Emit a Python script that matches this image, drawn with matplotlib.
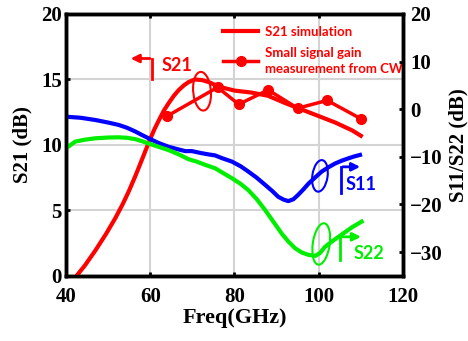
import numpy as np
import matplotlib
matplotlib.use("Agg")
import matplotlib.pyplot as plt
from matplotlib.patches import Ellipse

# S21 simulation (left axis, dB)
sim_f = [42.5, 44.5, 47.0, 49.5, 51.7, 53.5, 54.9, 56.5, 58.0, 59.6, 61.0, 62.0, 63.2, 64.4, 65.6,
         66.8, 68.0, 69.1, 70.6, 72.3, 73.9, 76.3, 80, 84, 88, 92, 96, 100, 104, 108, 110]
sim_s21 = [0.0, 0.8, 1.95, 3.2, 4.4, 5.5, 6.45, 7.65, 8.85, 10.15, 11.2, 11.85, 12.6, 13.2, 13.75,
           14.2, 14.55, 14.8, 15.0, 14.95, 14.8, 14.45, 14.15, 14.0, 13.75, 13.2, 12.7, 12.2, 11.7, 11.1, 10.7]

# small signal gain measured from CW (left axis, dB)
meas_f = [64, 76, 81, 88, 95, 102, 110]
meas_s21 = [12.2, 14.4, 13.1, 14.2, 12.8, 13.4, 12.0]

# S11 / S22 (right axis, dB)
s11_f = [40, 43.5, 47.0, 50.0, 52.5, 54.5, 56.5, 58.0, 59.6, 62.0, 64.4, 66.5, 68.3, 69.9, 72.0,
         73.9, 75.4, 77.1, 79.4, 81.5, 83.3, 85.3, 87.3, 89.0, 90.4, 91.7, 92.8, 94.0, 95.1, 96.3,
         97.6, 99.2, 100.7, 102.3, 103.9, 105.5, 107.1, 108.5, 109.8]
s11 = [-1.57, -1.8, -2.27, -2.8, -3.3, -3.9, -4.7, -5.4, -6.1, -7.1, -7.9, -8.4, -8.8, -8.8, -9.2,
       -9.5, -9.7, -10.3, -11.0, -12.0, -13.1, -14.4, -15.9, -17.2, -18.4, -19.0, -19.3, -18.9, -18.0, -16.9,
       -15.6, -14.3, -13.1, -12.2, -11.4, -10.8, -10.3, -9.9, -9.6]
s22_f = [40, 42.2, 44.5, 47.0, 50.0, 52.5, 54.5, 56.5, 58.0, 59.6, 62.0, 64.4, 66.8, 69.1, 71.0,
         73.1, 75.4, 77.1, 79.4, 81.5, 83.3, 85.3, 87.3, 89.3, 91.2, 92.8, 94.4, 96.0, 97.6, 99.2,
         100.3, 101.5, 103.1, 104.7, 106.3, 107.9, 110.2]
s22 = [-8.2, -6.8, -6.4, -6.1, -5.95, -5.9, -6.0, -6.3, -6.7, -7.2, -7.9, -8.6, -9.5, -10.5, -11.0,
       -11.7, -12.4, -13.3, -14.5, -15.7, -17.0, -18.9, -21.2, -23.7, -26.1, -27.8, -29.2, -30.1, -30.6, -30.8,
       -30.2, -28.9, -27.8, -26.8, -25.8, -24.8, -23.6]

RED, BLUE, GREEN = "#ff0000", "#0000ff", "#00ee00"
serif = dict(family="Liberation Serif", weight="bold")

fig = plt.figure(figsize=(4.68, 3.41), dpi=100)
ax = fig.add_axes([0.141, 0.191, 0.720, 0.768])
ax2 = ax.twinx()

ax.plot(sim_f, sim_s21, color=RED, lw=3, label="S21 simulation", zorder=3)
ax.plot(meas_f, meas_s21, color=RED, lw=2.5, marker="o", ms=7, mfc=RED, mec=RED,
        label="Small signal gain\nmeasurement from CW", zorder=3)
ax2.plot(s11_f, s11, color=BLUE, lw=3)
ax2.plot(s22_f, s22, color=GREEN, lw=3)

ax.set_xlim(40, 120)
ax.set_ylim(0, 20)
ax2.set_ylim(-35, 20)
ax.set_xticks([40, 60, 80, 100, 120])
ax.set_yticks([0, 5, 10, 15, 20])
ax2.set_yticks([-30, -20, -10, 0, 10, 20])
ax.grid(True, color="#d4d4d4", lw=1.5)
ax.set_axisbelow(True)

for a in (ax, ax2):
    for s in a.spines.values():
        s.set_linewidth(2.5)
    a.tick_params(direction="in", length=3, width=2, labelsize=15)
    for lab in a.get_xticklabels() + a.get_yticklabels():
        lab.set_fontfamily("Liberation Serif")
        lab.set_fontweight("bold")
ax.tick_params(top=True)
ax.tick_params(axis="x", pad=8)
ax.tick_params(axis="y", pad=3)
ax2.tick_params(axis="y", pad=5)

ax.set_xlabel("Freq(GHz)", fontsize=16, labelpad=1, **serif)
ax.set_ylabel("S21 (dB)", fontsize=15, labelpad=6, **serif)
ax2.set_ylabel("S11/S22 (dB)", fontsize=15, labelpad=4, **serif)

leg = ax.legend(loc="upper left", bbox_to_anchor=(0.43, 1.0), frameon=False,
                handlelength=2.7, handletextpad=0.5, labelspacing=0.7,
                prop=dict(family="Lato", weight="bold", size=9.5))
for t in leg.get_texts():
    t.set_color(RED)
    t.set_linespacing(1.4)

afont = dict(family="Lato", weight="bold", size=13)
# S21 marker
ax.annotate("", xy=(54.7, 16.6), xytext=(60.6, 16.6),
            arrowprops=dict(arrowstyle="-|>", color=RED, lw=2, mutation_scale=12))
ax.plot([60.4, 60.4], [15.0, 16.6], color=RED, lw=2)
ax.text(62.8, 16.1, "S21", color=RED, va="center", ha="left", **afont)
ax.add_patch(Ellipse((72.3, 14.1), 4.3, 2.9, angle=-10, fill=False, ec=RED, lw=1.5, zorder=4))

# S11 marker
ax2.add_patch(Ellipse((100.3, -14.0), 3.6, 6.7, angle=-10, fill=False, ec=BLUE, lw=1.5))
ax2.plot([105.3, 105.3], [-17.6, -12.1], color=BLUE, lw=2)
ax2.annotate("", xy=(110.5, -12.1), xytext=(105.1, -12.1),
             arrowprops=dict(arrowstyle="-|>", color=BLUE, lw=2, mutation_scale=12))
ax2.text(106.3, -15.9, "S11", color=BLUE, va="center", ha="left", **afont)

# S22 marker
ax2.add_patch(Ellipse((100.6, -28.3), 4.0, 8.8, angle=-10, fill=False, ec=GREEN, lw=1.5))
ax2.plot([105.1, 105.1], [-31.7, -26.8], color=GREEN, lw=2)
ax2.annotate("", xy=(110.7, -26.8), xytext=(104.9, -26.8),
             arrowprops=dict(arrowstyle="-|>", color=GREEN, lw=2, mutation_scale=12))
ax2.text(108.3, -30.2, "S22", color=GREEN, va="center", ha="left", **afont)

fig.savefig("out.png", dpi=100)
